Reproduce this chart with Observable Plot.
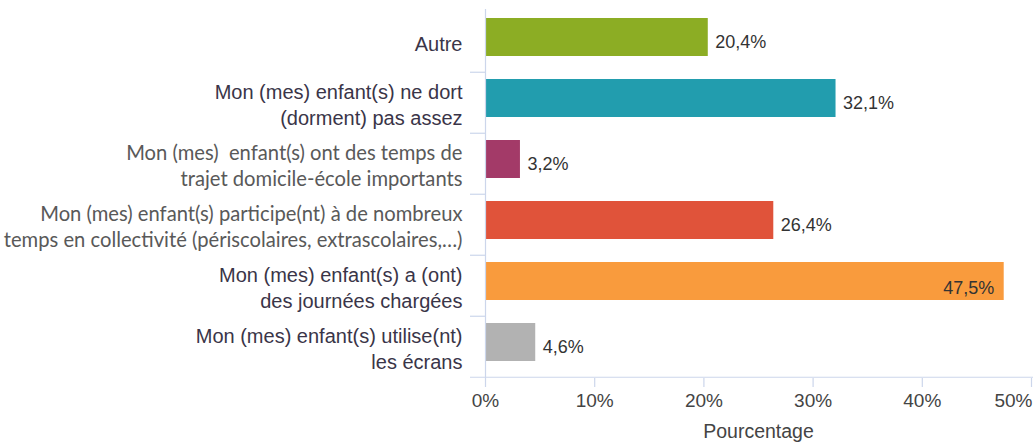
<!DOCTYPE html>
<html>
<head>
<meta charset="utf-8">
<script src="https://cdn.jsdelivr.net/npm/d3@7"></script>
<script src="https://cdn.jsdelivr.net/npm/@observablehq/plot@0.6"></script>
<style>
  html, body { margin: 0; padding: 0; background: #fff; }
  #chart svg { display: block; }
</style>
</head>
<body>
<div id="chart"></div>
<script>
const categories = [
  "Autre",
  "Mon (mes) enfant(s) ne dort\n(dorment) pas assez",
  "Mon (mes)  enfant(s) ont des temps de\ntrajet domicile-école importants",
  "Mon (mes) enfant(s) participe(nt) à de nombreux\ntemps en collectivité (périscolaires, extrascolaires,…)",
  "Mon (mes) enfant(s) a (ont)\ndes journées chargées",
  "Mon (mes) enfant(s) utilise(nt)\nles écrans"
];
const values = [20.4, 32.1, 3.2, 26.4, 47.5, 4.6];
const colors = ["#8cad24", "#229dae", "#a33a68", "#e0533a", "#f99b3d", "#b2b2b2"];
const labelStyle = ["arial", "arial", "calibri", "calibri", "arial", "arial"];
const insideLabel = [false, false, false, false, true, false];
const xTicks = [0, 10, 20, 30, 40, 50];
const xTitle = "Pourcentage";

const data = categories.map((c, i) => ({
  cat: c, value: values[i], color: colors[i], style: labelStyle[i], inside: insideLabel[i],
  label: String(values[i].toFixed(1)).replace(".", ",") + "%"
}));

const W = 1033, H = 447, mL = 485, mR = 2, mT = 9, mB = 69;
const step = (H - mT - mB) / categories.length;
const axisColor = "#ccd6eb";

const plot = Plot.plot({
  width: W, height: H,
  marginLeft: mL, marginRight: mR, marginTop: mT, marginBottom: mB,
  style: { fontFamily: "'Liberation Sans', Arial, sans-serif", background: "#fff", overflow: "visible" },
  x: { domain: [0, 50], axis: null },
  y: { domain: categories, paddingInner: 0.38, paddingOuter: 0.19, axis: null },
  marks: [
    Plot.barX(data, { x: "value", y: "cat", fill: "color", dy: -4 }),
    Plot.ruleX([0], { stroke: axisColor, strokeWidth: 1.2 }),
    Plot.ruleY(data.slice(0, -1), { y: "cat", x1: 0, x2: 0, insetLeft: -15, dy: step / 2, stroke: axisColor, strokeWidth: 1.2 }),
    Plot.ruleY(data.slice(-1), { y: "cat", x1: 0, x2: 50, insetLeft: -15, insetRight: -2, dy: step / 2, stroke: axisColor, strokeWidth: 1.2 }),
    Plot.axisX(xTicks, { tickSize: 9, stroke: axisColor, strokeWidth: 1.2, tickFormat: () => "", label: null }),
    Plot.text(xTicks.filter(t => t < 50), { x: d => d, frameAnchor: "bottom", dy: 28, text: d => d + "%", fontSize: 19, fill: "#444" }),
    Plot.text(xTicks.filter(t => t >= 50), { x: d => d, frameAnchor: "bottom", dy: 28, dx: 1, textAnchor: "end", text: d => d + "%", fontSize: 19, fill: "#444" }),
    Plot.text([xTitle], { frameAnchor: "bottom", dy: 59, text: d => d, fontSize: 19.5, fill: "#444" }),
    Plot.text(data.filter(d => d.style === "arial"), { y: "cat", text: "cat", frameAnchor: "left", textAnchor: "end", dx: -23, dy: 1, fontSize: 20, lineHeight: 1.3, fill: "#3a3548" }),
    Plot.text(data.filter(d => d.style === "calibri"), { y: "cat", text: "cat", frameAnchor: "left", textAnchor: "end", dx: -23, dy: 1, fontSize: 20.2, lineHeight: 26 / 20.2, fill: "#595959", fontFamily: "Lato, 'Open Sans', sans-serif" }),
    Plot.text(data.filter(d => !d.inside), { x: "value", y: "cat", text: "label", textAnchor: "start", dx: 7, dy: 1, fontSize: 18, fill: "#333" }),
    Plot.text(data.filter(d => d.inside), { x: "value", y: "cat", text: "label", textAnchor: "end", dx: -10, dy: 3, fontSize: 18, fill: "#333" })
  ]
});
document.getElementById("chart").appendChild(plot);
</script>
</body>
</html>
